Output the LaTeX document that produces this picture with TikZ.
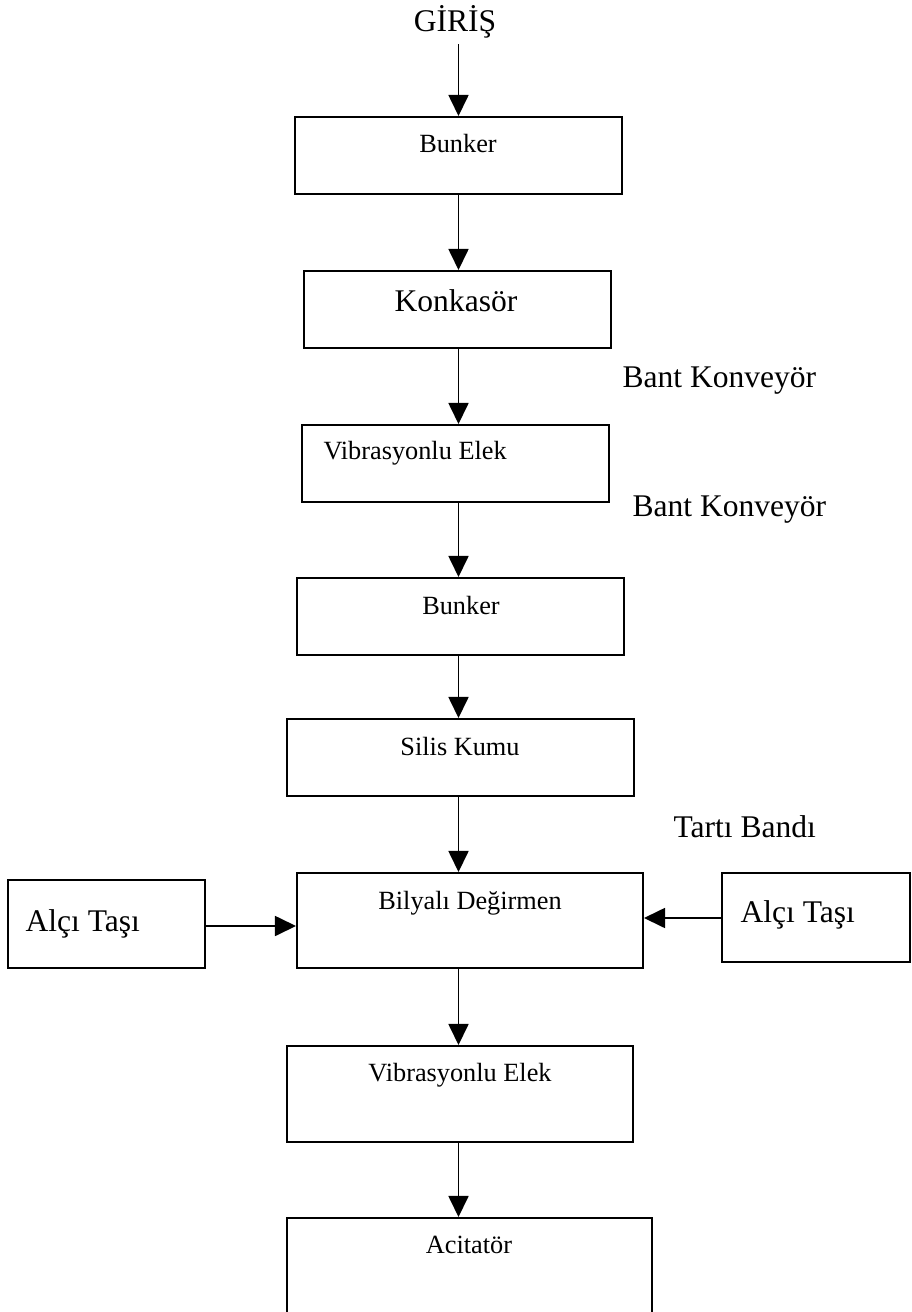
\documentclass[tikz,border=0pt]{standalone}
\usepackage{fontspec}
\setmainfont{Liberation Serif}
\usepackage{tikz}
\usetikzlibrary{arrows.meta}

\newlength\pxu
\setlength\pxu{0.01337cm}

\begin{document}
\begin{tikzpicture}[x=\pxu, y=-\pxu,
    box/.style={draw, rectangle, line width=0.75pt, inner sep=0pt},
    flow/.style={line width=0.7pt, -{Triangle[width=7.6pt,length=8pt]}},
    small/.style={font=\fontsize{10}{12}\selectfont, inner sep=0pt},
    big/.style={font=\fontsize{12}{14}\selectfont, inner sep=0pt}]
    \useasboundingbox (0,0) rectangle (911,1312);

    % main line of boxes
    \node[box, minimum width=327\pxu, minimum height=77\pxu] (bunkA) at (458.5,155.5) {};
    \node[box, minimum width=307\pxu, minimum height=77\pxu] (konk) at (457.5,309.5) {};
    \node[box, minimum width=307\pxu, minimum height=77\pxu] (vibA) at (455.5,463.5) {};
    \node[box, minimum width=327\pxu, minimum height=77\pxu] (bunkB) at (460.5,616.5) {};
    \node[box, minimum width=347\pxu, minimum height=77\pxu] (silis) at (460.5,757.5) {};
    \node[box, minimum width=346\pxu, minimum height=95\pxu] (bily) at (470,920.5) {};
    \node[box, minimum width=346\pxu, minimum height=96\pxu] (vibB) at (460,1094) {};
    \node[box, minimum width=365\pxu, minimum height=200\pxu] (acit) at (469.5,1318) {};

    % side feeds
    \node[box, minimum width=197\pxu, minimum height=88\pxu] (alciL) at (106.5,924) {};
    \node[box, minimum width=188\pxu, minimum height=89\pxu] (alciR) at (816,917.5) {};

    % texts
    \node[big, anchor=base] (giris) at (455,32) {GİRİŞ};
    \node[small, anchor=base] (tBunkA) at (458,153) {Bunker};
    \node[big, anchor=base] (tKonk) at (456,312) {Konkasör};
    \node[small, anchor=base west] (tVibA) at (323,460) {Vibrasyonlu Elek};
    \node[small, anchor=base] (tBunkB) at (461,614) {Bunker};
    \node[small, anchor=base] (tSilis) at (460,755) {Silis Kumu};
    \node[small, anchor=base] (tBily) at (470,909) {Bilyalı Değirmen};
    \node[small, anchor=base] (tVibB) at (460,1081) {Vibrasyonlu Elek};
    \node[small, anchor=base] (tAcit) at (469,1253) {Acitatör};
    \node[big, anchor=base west] (tAlciL) at (25,931) {Alçı Taşı};
    \node[big, anchor=base west] (tAlciR) at (740,922) {Alçı Taşı};

    \node[big, anchor=base west] (bantA) at (622,388) {Bant Konveyör};
    \node[big, anchor=base west] (bantB) at (632,516) {Bant Konveyör};
    \node[big, anchor=base west] (tarti) at (673,837) {Tartı Bandı};

    % connectors
    \coordinate (axis) at (458.5,0);
    \coordinate (feedL) at (0,926);
    \coordinate (feedR) at (0,918);
    \draw[flow] ([yshift=-2pt]giris.south -| axis) -- (bunkA.north -| axis);
    \draw[flow] (bunkA.south -| axis) -- (konk.north -| axis);
    \draw[flow] (konk.south -| axis) -- (vibA.north -| axis);
    \draw[flow] (vibA.south -| axis) -- (bunkB.north -| axis);
    \draw[flow] (bunkB.south -| axis) -- (silis.north -| axis);
    \draw[flow] (silis.south -| axis) -- (bily.north -| axis);
    \draw[flow] (bily.south -| axis) -- (vibB.north -| axis);
    \draw[flow] (vibB.south -| axis) -- (acit.north -| axis);
    \draw[flow] (alciL.east |- feedL) -- (bily.west |- feedL);
    \draw[flow] (alciR.west |- feedR) -- (bily.east |- feedR);
\end{tikzpicture}
\end{document}
